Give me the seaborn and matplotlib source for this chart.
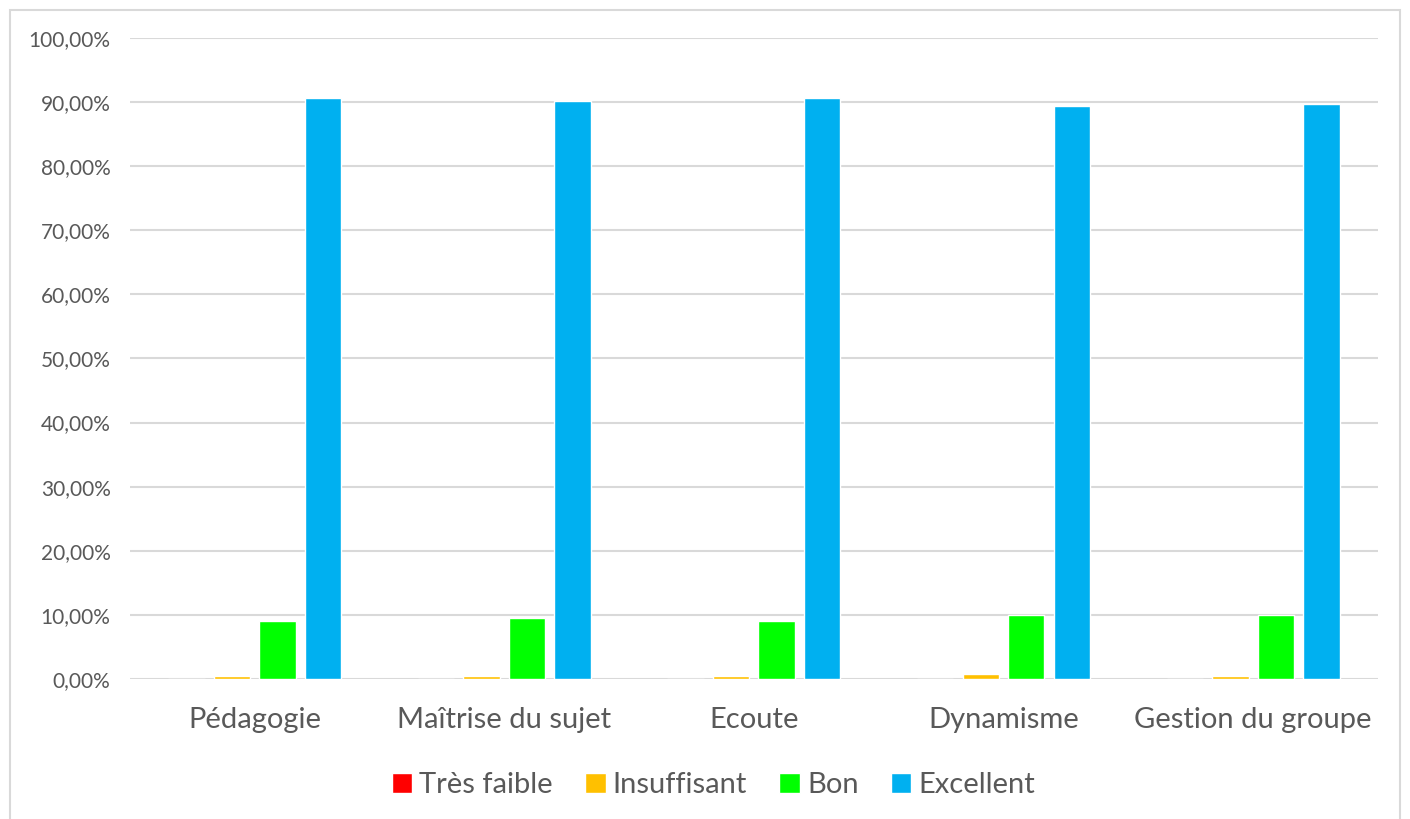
import numpy as np
import pandas as pd
import seaborn as sns
import matplotlib.pyplot as plt
from matplotlib.patches import Rectangle
from matplotlib.ticker import FuncFormatter

# data (fractions)
categories = ['Pédagogie', 'Maîtrise du sujet', 'Ecoute', 'Dynamisme', 'Gestion du groupe']
levels = ['Très faible', 'Insuffisant', 'Bon', 'Excellent']
tres_faible = [0.0, 0.0, 0.0, 0.0, 0.0]
insuffisant = [0.004, 0.004, 0.004, 0.007, 0.004]
bon = [0.090, 0.095, 0.090, 0.100, 0.100]
excellent = [0.907, 0.902, 0.907, 0.894, 0.897]
colors = ['#FF0000', '#FFC000', '#00FF00', '#00B0F0']

rows = []
for lvl, vals in zip(levels, [tres_faible, insuffisant, bon, excellent]):
    for c, v in zip(categories, vals):
        rows.append({'critere': c, 'niveau': lvl, 'valeur': v})
df = pd.DataFrame(rows)

sns.set_style('white')
plt.rcParams['font.family'] = ['Lato', 'DejaVu Sans']

fig = plt.figure(figsize=(14.1, 8.19), dpi=100)
ax = fig.add_axes([0.0922, 0.171, 0.885, 0.7826])

sns.barplot(data=df, x='critere', y='valeur', hue='niveau', hue_order=levels,
            palette=colors, width=0.73, gap=0.2, ax=ax, saturation=1,
            legend=True)

ax.set_ylim(0, 1.0)
ax.set_yticks(np.arange(0, 1.01, 0.1))
ax.yaxis.set_major_formatter(FuncFormatter(lambda v, p: f'{v*100:.2f}%'.replace('.', ',')))
ax.grid(axis='y', color='#d9d9d9', linewidth=1.5)
ax.set_axisbelow(True)
for s in ax.spines.values():
    s.set_visible(False)
ax.tick_params(axis='y', labelsize=15, labelcolor='#595959', length=0, pad=14)
ax.tick_params(axis='x', labelsize=21, labelcolor='#595959', length=0, pad=20)
ax.set_xlabel('')
ax.set_ylabel('')

handles, labels = ax.get_legend_handles_labels()
ax.get_legend().remove()
fig.legend(handles, labels, loc='upper center', bbox_to_anchor=(0.506, 0.089), ncol=4,
           frameon=False, fontsize=21, labelcolor='#595959', handlelength=0.7,
           handleheight=0.7, handletextpad=0.25, columnspacing=1.1)

fig.patches.append(Rectangle((10 / 1410, -0.01), 1390 / 1410, 1 - 10 / 819 + 0.01,
                             transform=fig.transFigure, fill=False,
                             edgecolor='#d9d9d9', linewidth=1.5))

fig.savefig('out.png', dpi=100)
